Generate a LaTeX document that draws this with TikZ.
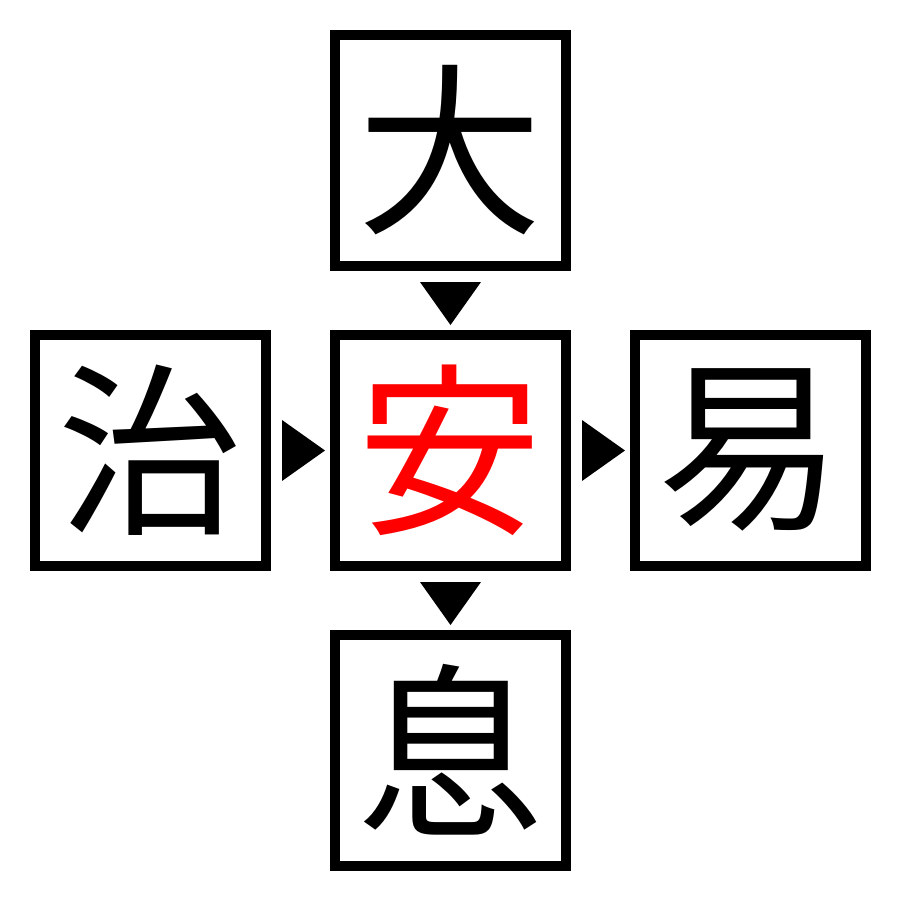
\documentclass[tikz,border=0pt]{standalone}
\usepackage{fontspec}
\usetikzlibrary{calc}
\newfontfamily\cjk{Noto Sans CJK JP}
\begin{document}
\begin{tikzpicture}[x=1pt,y=-1pt,
  charbox/.style={draw=black,line width=10pt,minimum size=231pt,inner sep=0pt,font=\cjk\fontsize{185}{185}\selectfont}]
\useasboundingbox (0,0) rectangle (900,900);
\node[charbox] (top) at (450,150) {大};
\node[charbox] (left) at (150,450) {治};
\node[charbox,text=red] (mid) at (450,450) {安};
\node[charbox] (right) at (750,450) {易};
\node[charbox] (bot) at (450,750) {息};
\coordinate (a1) at ($(top.south)!0.5!(mid.north)+(0.5,3.5)$);
\coordinate (a2) at ($(mid.south)!0.5!(bot.north)+(0.5,3.5)$);
\coordinate (a3) at ($(left.east)!0.5!(mid.west)+(3.5,0.5)$);
\coordinate (a4) at ($(mid.east)!0.5!(right.west)+(3.5,0.5)$);
\fill ($(a1)+(-30.5,-21.5)$) -- ++(61,0) -- ($(a1)+(0,21.5)$) -- cycle;
\fill ($(a2)+(-30.5,-21.5)$) -- ++(61,0) -- ($(a2)+(0,21.5)$) -- cycle;
\fill ($(a3)+(-21.5,-30.5)$) -- ++(0,61) -- ($(a3)+(21.5,0)$) -- cycle;
\fill ($(a4)+(-21.5,-30.5)$) -- ++(0,61) -- ($(a4)+(21.5,0)$) -- cycle;
\end{tikzpicture}
\end{document}
